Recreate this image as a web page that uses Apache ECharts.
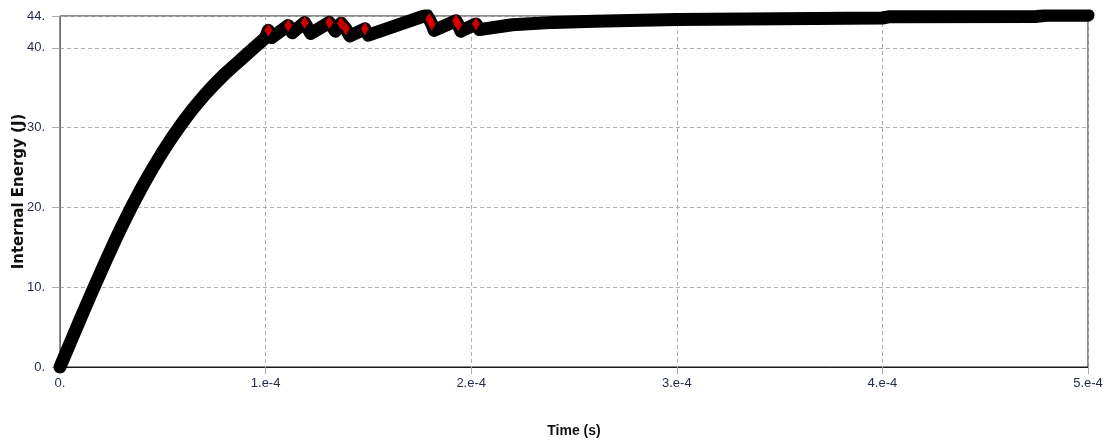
<!DOCTYPE html>
<html>
<head>
<meta charset="utf-8">
<script src="https://cdn.jsdelivr.net/npm/echarts@6/dist/echarts.min.js"></script>
<style>
  html, body { margin: 0; padding: 0; background: #fff; }
  #chart { width: 1109px; height: 442px; }
</style>
</head>
<body>
<div id="chart"></div>
<script>
// Internal energy history (time in seconds, energy in joules)
const time = [
  0, 0.1e-4, 0.2e-4, 0.3e-4, 0.4e-4, 0.5e-4, 0.6e-4, 0.7e-4, 0.8e-4, 0.9e-4,
  1.00e-4, 1.013e-4, 1.03e-4, 1.11e-4, 1.13e-4, 1.19e-4, 1.22e-4,
  1.31e-4, 1.34e-4, 1.367e-4, 1.39e-4, 1.41e-4, 1.483e-4, 1.50e-4, 1.783e-4, 1.796e-4, 1.808e-4,
  1.82e-4, 1.926e-4, 1.937e-4, 1.95e-4, 2.023e-4, 2.04e-4, 2.2e-4, 2.4e-4, 2.6e-4, 3.0e-4,
  3.5e-4, 4.0e-4, 4.03e-4, 4.75e-4, 4.8e-4, 5.0e-4
];
const energy = [
  0, 6.1, 12.0, 17.6, 22.6, 27.0, 30.8, 34.0, 36.7, 39.0,
  41.3, 42.2, 41.3, 42.8, 41.9, 43.2, 41.8,
  43.2, 42.1, 43.1, 42.4, 41.5, 42.4, 41.6, 44.1, 43.6, 43.0,
  42.2, 43.4, 42.9, 42.1, 43.0, 42.3, 42.9, 43.2, 43.35, 43.55,
  43.65, 43.75, 43.9, 43.95, 44.1, 44.1
];
// The loading ramp runs up to t = 1.0e-4 (index 10); the oscillating part follows it
const rampEnd = 10;

// Sample points that show their red markers
const markTime = [1.013e-4, 1.11e-4, 1.19e-4, 1.31e-4, 1.367e-4, 1.39e-4, 1.483e-4,
  1.783e-4, 1.796e-4, 1.808e-4, 1.926e-4, 1.937e-4, 2.023e-4, 5.0e-4];
const markEnergy = [42.2, 42.8, 43.2, 43.2, 43.1, 42.4, 42.4,
  44.1, 43.6, 43.0, 43.4, 42.9, 43.0, 44.1];

const xTicks = { min: 0, max: 5e-4, interval: 1e-4 };
const yTicks = { min: 0, max: 44, interval: 10 };

const labelColor = '#1f2a44';
const labelFont = 'Liberation Sans';

const pairs = time.map((t, i) => [t, energy[i]]);
const bandStyle = { color: '#000000', width: 13, join: 'round', cap: 'round' };

const chart = echarts.init(document.getElementById('chart'), null, { renderer: 'canvas' });

chart.setOption({
  animation: false,
  backgroundColor: '#ffffff',
  grid: {
    left: 60, right: 21, top: 16, bottom: 75,
    outerBoundsMode: 'none',
    containLabel: false,
    show: true, borderColor: '#1a1a1a', borderWidth: 1
  },
  xAxis: {
    type: 'value',
    min: xTicks.min, max: xTicks.max, interval: xTicks.interval,
    name: 'Time (s)',
    nameLocation: 'middle',
    nameGap: 57,
    nameMoveOverlap: false,
    nameTextStyle: { fontFamily: labelFont, fontWeight: 'bold', fontSize: 14, color: '#111' },
    axisLine: { lineStyle: { color: '#1a1a1a', width: 1 } },
    axisTick: { show: true, length: 7, lineStyle: { color: '#aaaaaa' } },
    axisLabel: {
      margin: 10, color: labelColor, fontFamily: labelFont, fontSize: 13,
      formatter: v => v === 0 ? '0.' : Math.round(v * 1e4) + '.e-4'
    },
    splitLine: { show: true, lineStyle: { color: '#b0b0b0', type: [4, 3], width: 1 } }
  },
  yAxis: {
    type: 'value',
    min: yTicks.min, max: yTicks.max, interval: yTicks.interval,
    name: 'Internal Energy (J)',
    nameLocation: 'middle',
    nameGap: 33,
    nameMoveOverlap: false,
    nameTextStyle: { fontFamily: 'DejaVu Sans', fontWeight: 'bold', fontSize: 15, color: '#111' },
    axisLine: { show: true, lineStyle: { color: '#6e6e6e', width: 1 } },
    axisTick: { show: true, length: 8, lineStyle: { color: '#aaaaaa' } },
    axisLabel: {
      margin: 15, color: labelColor, fontFamily: labelFont, fontSize: 13,
      formatter: v => v + '.'
    },
    splitLine: { show: true, lineStyle: { color: '#b0b0b0', type: [4, 3], width: 1 } }
  },
  series: [
    {
      // smooth loading ramp
      type: 'line',
      data: pairs.slice(0, rampEnd + 1),
      smooth: 0.25,
      showSymbol: false,
      symbol: 'none',
      lineStyle: bandStyle,
      z: 2
    },
    {
      // sawtooth oscillations and the plateau
      type: 'line',
      data: pairs.slice(rampEnd),
      showSymbol: false,
      symbol: 'none',
      lineStyle: bandStyle,
      z: 2
    },
    {
      type: 'scatter',
      data: markTime.map((t, i) => [t, markEnergy[i]]),
      symbol: 'diamond',
      symbolSize: [8, 13],
      itemStyle: { color: '#ff0000' },
      z: 3
    }
  ]
});
</script>
</body>
</html>
